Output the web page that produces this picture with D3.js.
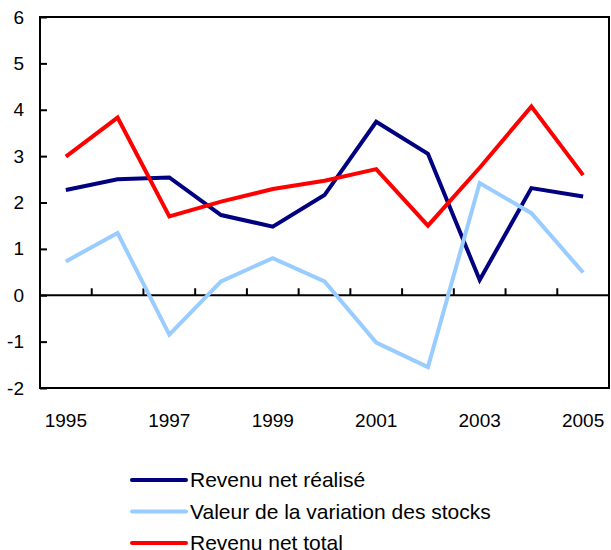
<!DOCTYPE html>
<html>
<head>
<meta charset="utf-8">
<script src="https://cdn.jsdelivr.net/npm/d3@7"></script>
<style>
  body { margin: 0; background: #fff; overflow: hidden; }
  text { font-family: "Liberation Sans", Arial, sans-serif; }
</style>
</head>
<body>
<div id="chart"></div>
<script>
var years = [1995, 1996, 1997, 1998, 1999, 2000, 2001, 2002, 2003, 2004, 2005];
var yearLabels = [1995, 1997, 1999, 2001, 2003, 2005];
var yTicks = [-2, -1, 0, 1, 2, 3, 4, 5, 6];

var revenuRealise = [2.27, 2.50, 2.54, 1.73, 1.48, 2.16, 3.74, 3.05, 0.33, 2.31, 2.13];
var variationStocks = [0.73, 1.34, -0.85, 0.30, 0.80, 0.30, -1.02, -1.55, 2.42, 1.77, 0.49];
var revenuTotal = [2.99, 3.83, 1.70, 2.02, 2.29, 2.47, 2.72, 1.50, 2.75, 4.07, 2.59];

var seriesNames = ['Revenu net réalisé', 'Valeur de la variation des stocks', 'Revenu net total'];
var seriesColors = ['#000080', '#99ccff', '#ff0000'];

var series = [revenuRealise, variationStocks, revenuTotal];

var w = 611, h = 550;
var mLeft = 40, mRight = 609, mTop = 17, mBottom = 388;

var svg = d3.select('#chart').append('svg')
    .attr('width', w)
    .attr('height', h);

var x = d3.scaleBand()
    .domain(years)
    .range([mLeft, mRight]);

var y = d3.scaleLinear()
    .domain([-2, 6])
    .range([mBottom, mTop]);

// frame
svg.append('rect')
    .attr('x', mLeft)
    .attr('y', mTop)
    .attr('width', mRight - mLeft)
    .attr('height', mBottom - mTop)
    .attr('fill', 'none')
    .attr('stroke', '#000')
    .attr('stroke-width', 2);

// y axis ticks + labels (plain hyphen for negatives)
var yAxis = d3.axisLeft(y)
    .tickValues(yTicks)
    .tickFormat(function(d){return String(d);})
    .tickSizeInner(-7)
    .tickSizeOuter(0)
    .tickPadding(16);

var gy = svg.append('g')
    .attr('transform', 'translate(' + mLeft + ',0)')
    .call(yAxis);
gy.select('.domain').remove();
gy.selectAll('line').attr('stroke', '#000').attr('stroke-width', 2);
gy.selectAll('text')
    .attr('fill', '#000')
    .style('font-size', '19px');

// zero line with category ticks
var gx = svg.append('g')
    .attr('transform', 'translate(0,' + y(0) + ')');
gx.append('line')
    .attr('x1', mLeft).attr('x2', mRight)
    .attr('stroke', '#000')
    .attr('stroke-width', 2);
gx.selectAll('.tk')
    .data(years.slice(1))
    .enter()
    .append('line')
    .attr('class', 'tk')
    .attr('x1', function(d){return x(d);})
    .attr('x2', function(d){return x(d);})
    .attr('y1', 0)
    .attr('y2', -7)
    .attr('stroke', '#000')
    .attr('stroke-width', 2);

// year labels
svg.selectAll('.ylab')
    .data(yearLabels)
    .enter()
    .append('text')
    .attr('class', 'ylab')
    .attr('x', function(d){return x(d) + x.bandwidth() / 2;})
    .attr('y', 427)
    .attr('text-anchor', 'middle')
    .style('font-size', '19px')
    .text(function(d){return d;});

var line = d3.line()
    .x(function(d, i){return x(years[i]) + x.bandwidth() / 2;})
    .y(function(d){return y(d);});

svg.selectAll('.series')
    .data(series)
    .enter()
    .append('path')
    .attr('class', 'series')
    .attr('d', line)
    .attr('fill', 'none')
    .attr('stroke', function(d, i){return seriesColors[i];})
    .attr('stroke-width', 4)
    .attr('stroke-linejoin', 'miter');

// legend
var legend = svg.selectAll('.legend')
    .data(seriesNames)
    .enter()
    .append('g')
    .attr('class', 'legend')
    .attr('transform', function(d, i){
        return 'translate(130,' + (480 + i * 31.5) + ')';
    });

legend.append('line')
    .attr('x1', 2)
    .attr('x2', 56)
    .attr('stroke', function(d, i){return seriesColors[i];})
    .attr('stroke-width', 4)
    .attr('stroke-linecap', 'round');

legend.append('text')
    .attr('x', 60)
    .attr('y', 7)
    .style('font-size', '21px')
    .text(function(d){return d;});
</script>
</body>
</html>
